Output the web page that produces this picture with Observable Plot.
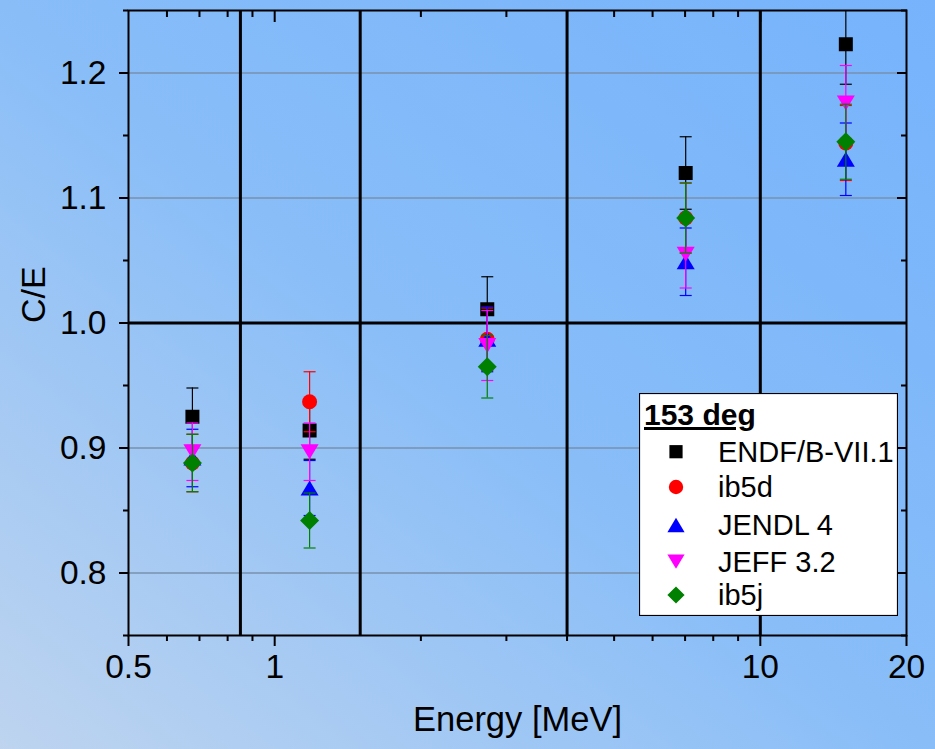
<!DOCTYPE html>
<html><head><meta charset="utf-8">
<script src="https://cdn.jsdelivr.net/npm/d3@7"></script>
<script src="https://cdn.jsdelivr.net/npm/@observablehq/plot@0.6"></script>
<style>
html,body{margin:0;padding:0;}
#wrap{position:relative;width:935px;height:749px;overflow:hidden;
  background:linear-gradient(to top right,#bed4ef 0%,#88bdf8 50%,#76b3fc 100%);
  font-family:"Liberation Sans",Arial,sans-serif;}
#chart svg{background:transparent;}
#legend{position:absolute;left:639px;top:393px;}
</style></head>
<body><div id="wrap"><div id="chart"></div><div id="legend"></div></div>
<script>
// ---- data ----
const energies = [0.677, 1.18, 2.74, 7.02, 15.0];
const seriesNames = ["ENDF/B-VII.1", "ib5d", "JENDL 4", "JEFF 3.2", "ib5j"];
const seriesColors = ["#000000", "#ff0000", "#0000ff", "#ff00ff", "#008000"];
const endf     = [0.925, 0.914, 1.011, 1.120, 1.223];
const endfErr  = [0.023, 0.023, 0.026, 0.029, 0.032];
const ib5d     = [0.888, 0.937, 0.987, 1.084, 1.144];
const ib5dErr  = [0.023, 0.024, 0.025, 0.028, 0.030];
const jendl    = [0.892, 0.868, 0.987, 1.049, 1.131];
const jendlErr = [0.023, 0.022, 0.026, 0.027, 0.029];
const jeff     = [0.897, 0.897, 0.982, 1.055, 1.176];
const jeffErr  = [0.023, 0.023, 0.028, 0.027, 0.030];
const ib5j     = [0.888, 0.842, 0.965, 1.084, 1.145];
const ib5jErr  = [0.023, 0.022, 0.025, 0.028, 0.030];
const xMajorTicks = [0.5, 1, 10, 20];
const xMinorTicks = [0.6, 0.7, 0.8, 0.9, 2, 3, 4, 5, 6, 7, 8, 9];
const yMajorTicks = [0.8, 0.9, 1.0, 1.1, 1.2];
const yMinorTicks = [0.75, 0.85, 0.95, 1.05, 1.15, 1.25];
const refLinesX = [0.85, 1.5, 4, 10];
const refLineY = [1.0];
const legendTitle = "153 deg";

const allValues = [endf, ib5d, jendl, jeff, ib5j];
const allErrors = [endfErr, ib5dErr, jendlErr, jeffErr, ib5jErr];

// ---- symbols ----
const R = s => Math.sqrt(s / Math.PI);
const symSquare = {draw(c, s) { const r = R(s); c.rect(-r, -r, 2 * r, 2 * r); }};
const symCircle = {draw(c, s) { const r = R(s); c.moveTo(r, 0); c.arc(0, 0, r, 0, 2 * Math.PI); }};
const symUp = {draw(c, s) { const r = R(s); c.moveTo(0, -0.83 * r); c.lineTo(r, 0.83 * r); c.lineTo(-r, 0.83 * r); c.closePath(); }};
const symDown = {draw(c, s) { const r = R(s); c.moveTo(0, 0.83 * r); c.lineTo(r, -0.83 * r); c.lineTo(-r, -0.83 * r); c.closePath(); }};
const symDiamond = {draw(c, s) { const r = R(s); c.moveTo(0, -r); c.lineTo(r, 0); c.lineTo(0, r); c.lineTo(-r, 0); c.closePath(); }};
const symCap = {draw(c, s) { const r = R(s); c.moveTo(-r, 0); c.lineTo(r, 0); }};
const seriesSymbols = [symSquare, symCircle, symUp, symDown, symDiamond];
const seriesR = [7, 7.5, 9, 9, 9.5];

const seriesMarks = [];
seriesNames.forEach((name, i) => {
  const rows = energies.map((e, j) => ({E: e, v: allValues[i][j], lo: allValues[i][j] - allErrors[i][j], hi: allValues[i][j] + allErrors[i][j]}));
  const col = seriesColors[i];
  seriesMarks.push(
    Plot.ruleX(rows, {x: "E", y1: "lo", y2: "hi", stroke: col, strokeWidth: 1.2, clip: true}),
    Plot.dot(rows, {x: "E", y: "lo", symbol: symCap, r: 6, stroke: col, fill: "none", strokeWidth: 1.2, clip: true}),
    Plot.dot(rows, {x: "E", y: "hi", symbol: symCap, r: 6, stroke: col, fill: "none", strokeWidth: 1.2, clip: true}),
    Plot.dot(rows, {x: "E", y: "v", symbol: seriesSymbols[i], r: seriesR[i], fill: col, stroke: "none"})
  );
});

const fnt = 33.5;
const chart = Plot.plot({
  width: 935, height: 749,
  marginLeft: 128, marginRight: 29, marginTop: 10, marginBottom: 114,
  style: {background: "transparent", fontFamily: "'Liberation Sans', Arial, sans-serif", color: "black"},
  x: {type: "log", domain: [0.5, 20]},
  y: {domain: [0.75, 1.25]},
  marks: [
    Plot.ruleY(yMajorTicks.filter(d => d !== 1.0), {stroke: "#7891ae", strokeWidth: 1.5}),
    Plot.ruleX(refLinesX, {stroke: "#000", strokeWidth: 3}),
    Plot.ruleY(refLineY, {stroke: "#000", strokeWidth: 3}),
    ...seriesMarks,
    Plot.axisX({anchor: "bottom", ticks: xMajorTicks, tickFormat: d => String(d), tickSize: 11, tickPadding: 8, fontSize: fnt, strokeWidth: 2, label: null}),
    Plot.axisX({anchor: "bottom", ticks: xMinorTicks, tickFormat: () => "", tickSize: 6, strokeWidth: 2, label: null}),
    Plot.axisX({anchor: "top", ticks: [1, 10], tickFormat: () => "", tickSize: 11, dy: 11, strokeWidth: 2, label: null}),
    Plot.axisX({anchor: "top", ticks: xMinorTicks, tickFormat: () => "", tickSize: 6, dy: 6, strokeWidth: 2, label: null}),
    Plot.axisY({anchor: "left", ticks: yMajorTicks, tickFormat: d => d.toFixed(1), tickSize: 9, tickPadding: 13, fontSize: fnt, strokeWidth: 2, label: null}),
    Plot.axisY({anchor: "left", ticks: yMinorTicks, tickFormat: () => "", tickSize: 5, strokeWidth: 2, label: null}),
    Plot.axisY({anchor: "right", ticks: yMajorTicks, tickFormat: () => "", tickSize: 10, dx: -10, strokeWidth: 2, label: null}),
    Plot.axisY({anchor: "right", ticks: yMinorTicks, tickFormat: () => "", tickSize: 6, dx: -6, strokeWidth: 2, label: null}),
    Plot.frame({stroke: "#000", strokeWidth: 2}),
    Plot.text(["Energy [MeV]"], {frameAnchor: "bottom", dy: 95, fontSize: 34.5, fill: "#000"}),
    Plot.text(["C/E"], {frameAnchor: "left", dx: -94, rotate: -90, fontSize: 34, fill: "#000"})
  ]
});
document.getElementById("chart").appendChild(chart);

// ---- legend ----
const lw = 259, lh = 223;
const lsvg = d3.select("#legend").append("svg").attr("width", lw).attr("height", lh)
  .style("font-family", "'Liberation Sans', Arial, sans-serif");
lsvg.append("rect").attr("x", 0.5).attr("y", 0.5).attr("width", lw - 1).attr("height", lh - 1)
  .attr("fill", "#fff").attr("stroke", "#000").attr("stroke-width", 1.2);
lsvg.append("text").attr("x", 5).attr("y", 32).attr("font-size", 30).attr("font-weight", "bold")
  .attr("text-decoration", "underline").text(legendTitle);
const legSymY = [58.7, 94, 132, 168.7, 202];
const legSize = [6.6, 7.2, 8.6, 8.6, 8.6];
seriesNames.forEach((name, i) => {
  const p = d3.path();
  const s = legSize[i] * legSize[i] * Math.PI;
  seriesSymbols[i].draw(p, s);
  lsvg.append("path").attr("d", p.toString()).attr("fill", seriesColors[i])
    .attr("transform", `translate(37,${legSymY[i]})`);
  lsvg.append("text").attr("x", 79).attr("y", legSymY[i] + 10).attr("font-size", 29).text(name);
});
</script>
</body></html>
